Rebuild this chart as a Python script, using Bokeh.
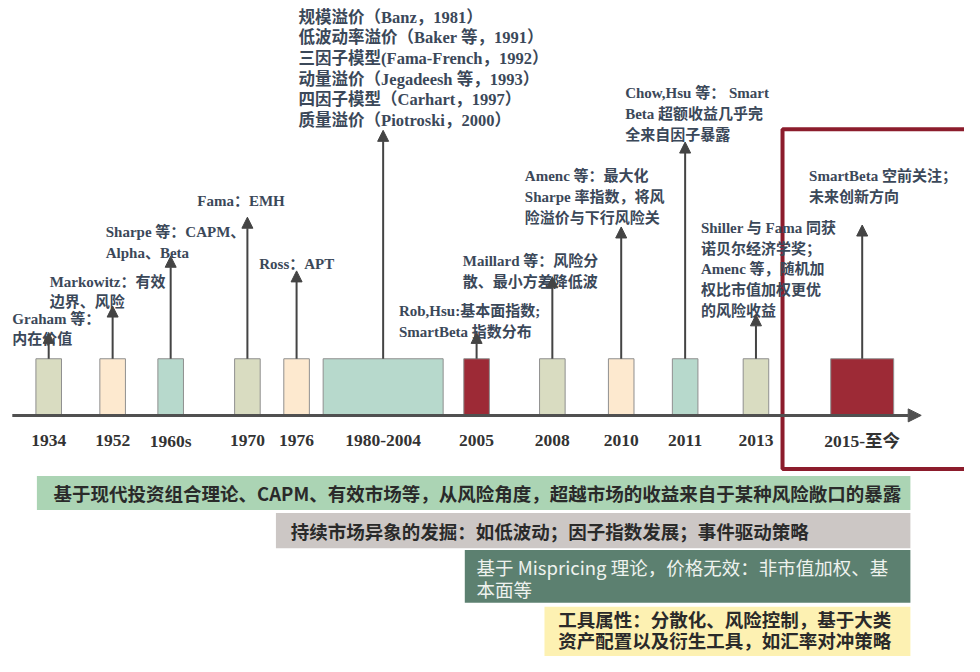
from bokeh.plotting import figure
from bokeh.models import Range1d, ColumnDataSource, Arrow, NormalHead
from bokeh.core.properties import value
from bokeh.embed import file_html
from bokeh.resources import INLINE

# ---------------- data ----------------
periods = ["1934", "1952", "1960s", "1970", "1976", "1980-2004", "2005",
           "2008", "2010", "2011", "2013", "2015-至今"]
period_kind = ["khaki", "peach", "teal", "khaki", "peach", "teal", "red",
               "khaki", "peach", "teal", "khaki", "red"]
notes = [
    ["Graham 等：", "内在价值"],
    ["Markowitz：有效", "边界、风险"],
    ["Sharpe 等：CAPM、", "Alpha、Beta"],
    ["Fama：EMH"],
    ["Ross：APT"],
    ["规模溢价（Banz，1981）", "低波动率溢价（Baker 等，1991）",
     "三因子模型(Fama-French，1992）", "动量溢价（Jegadeesh 等，1993）",
     "四因子模型（Carhart，1997）", "质量溢价（Piotroski，2000）"],
    ["Rob,Hsu:基本面指数;", "SmartBeta 指数分布"],
    ["Maillard 等：风险分", "散、最小方差降低波"],
    ["Amenc 等：最大化", "Sharpe 率指数，将风", "险溢价与下行风险关"],
    ["Chow,Hsu 等： Smart", "Beta 超额收益几乎完", "全来自因子暴露"],
    ["Shiller 与 Fama 同获", "诺贝尔经济学奖；", "Amenc 等，随机加",
     "权比市值加权更优", "的风险收益"],
    ["SmartBeta 空前关注；", "未来创新方向"],
]
bands = [
    ["基于现代投资组合理论、CAPM、有效市场等，从风险角度，超越市场的收益来自于某种风险敞口的暴露"],
    ["持续市场异象的发掘：如低波动；因子指数发展；事件驱动策略"],
    ["基于 Mispricing 理论，价格无效：非市值加权、基", "本面等"],
    ["工具属性：分散化、风险控制，基于大类", "资产配置以及衍生工具，如汇率对冲策略"],
]

# ---------------- layout / style ----------------
pos_x = [49, 114, 173, 251, 301, 389, 484, 561, 631, 696, 768, 876]
box_w = [26, 26, 26, 26, 26, 122, 26, 26, 26, 26, 26, 64]
tip_y = [340, 313, 262, 222, 277, 133, 340, 283, 232, 145, 322, 230]
note_x = [12, 50, 107, 200, 263, 303, 405, 470, 533, 635, 712, 822]
note_y0 = [326, 288, 237, 205, 270, 17, 318, 267, 180, 95, 233, 180]
note_size = ["15px"] * 5 + ["16.5px"] + ["15px"] * 6
note_dy = 21.2
axis_y = 425
box_top = 367
kind_color = {"khaki": "#d9dcc1", "peach": "#fde9cf", "teal": "#b7d9cc", "red": "#9d2a36"}

band_left = [37, 280, 472, 553]
band_right = 925
band_top = [487, 525, 563, 621]
band_bottom = [522, 561, 617, 690]
band_fill = ["#abd4b4", "#ccc7c5", "#5c8070", "#fdf1b2"]
band_text_color = ["#2a2a2a", "#2a2a2a", "#eef2ee", "#2a2a2a"]
band_text_style = ["bold", "bold", "normal", "bold"]
band_text_y0 = [504, 543, 580, 634]
band_dy = [23, 23, 23, 21]
band_pad = [17, 15, 12, 14]

MIX_FONT = "Liberation Serif, Noto Sans CJK SC"
CJK_FONT = "Noto Sans CJK SC"

p = figure(width=964, height=656, output_backend="svg", toolbar_location=None,
           x_range=Range1d(0, 980), y_range=Range1d(672, 0), min_border=0)
p.axis.visible = False
p.grid.visible = False
p.outline_line_color = None
p.background_fill_color = "white"

# bands
p.quad(left=band_left, right=[band_right] * 4, top=band_top, bottom=band_bottom,
       fill_color=band_fill, line_color=None)
bx, by, bt, bc, bs = [], [], [], [], []
for i, lines in enumerate(bands):
    for j, t in enumerate(lines):
        bx.append(band_left[i] + band_pad[i])
        by.append(band_text_y0[i] + j * band_dy[i])
        bt.append(t)
        bc.append(band_text_color[i])
        bs.append(band_text_style[i])
p.text(x="x", y="y", text="t", text_color="c", text_font_style="s",
       source=ColumnDataSource(dict(x=bx, y=by, t=bt, c=bc, s=bs)),
       text_font=value(CJK_FONT), text_font_size="18.5px",
       text_baseline="middle", text_align="left")

# red frame
p.quad(left=[795], right=[1000], top=[132], bottom=[480], fill_color=None,
       line_color="#8c1c2c", line_width=4)

# timeline boxes
p.quad(left=[x - w / 2 for x, w in zip(pos_x, box_w)],
       right=[x + w / 2 for x, w in zip(pos_x, box_w)],
       top=[box_top] * len(pos_x), bottom=[axis_y] * len(pos_x),
       fill_color=[kind_color[k] for k in period_kind], line_color="#8f8f8f", line_width=1)

# axis arrow
p.add_layout(Arrow(x_start=12, y_start=axis_y, x_end=936, y_end=axis_y,
                   line_color="#505050", line_width=3,
                   end=NormalHead(size=13, fill_color="#505050", line_color="#505050")))

# event arrows
asrc = ColumnDataSource(dict(x0=pos_x, y0=[box_top] * len(pos_x), x1=pos_x, y1=tip_y))
p.add_layout(Arrow(x_start="x0", y_start="y0", x_end="x1", y_end="y1", source=asrc,
                   line_color="#444444", line_width=2,
                   end=NormalHead(size=11, fill_color="#444444", line_color="#444444")))

# period labels
p.text(x=pos_x, y=[451] * len(pos_x), text=periods, text_font=value(MIX_FONT),
       text_font_style="bold", text_font_size="17.5px", text_color="#333333",
       text_align="center", text_baseline="middle")

# annotation texts
nx, ny, nt, ns = [], [], [], []
for i, lines in enumerate(notes):
    for j, t in enumerate(lines):
        nx.append(note_x[i])
        ny.append(note_y0[i] + j * note_dy)
        nt.append(t)
        ns.append(note_size[i])
p.text(x="x", y="y", text="t", text_font_size="s",
       source=ColumnDataSource(dict(x=nx, y=ny, t=nt, s=ns)),
       text_font=value(MIX_FONT), text_font_style="bold",
       text_color="#3b4859", text_align="left", text_baseline="middle")

open("out.html", "w").write(file_html(p, INLINE))
